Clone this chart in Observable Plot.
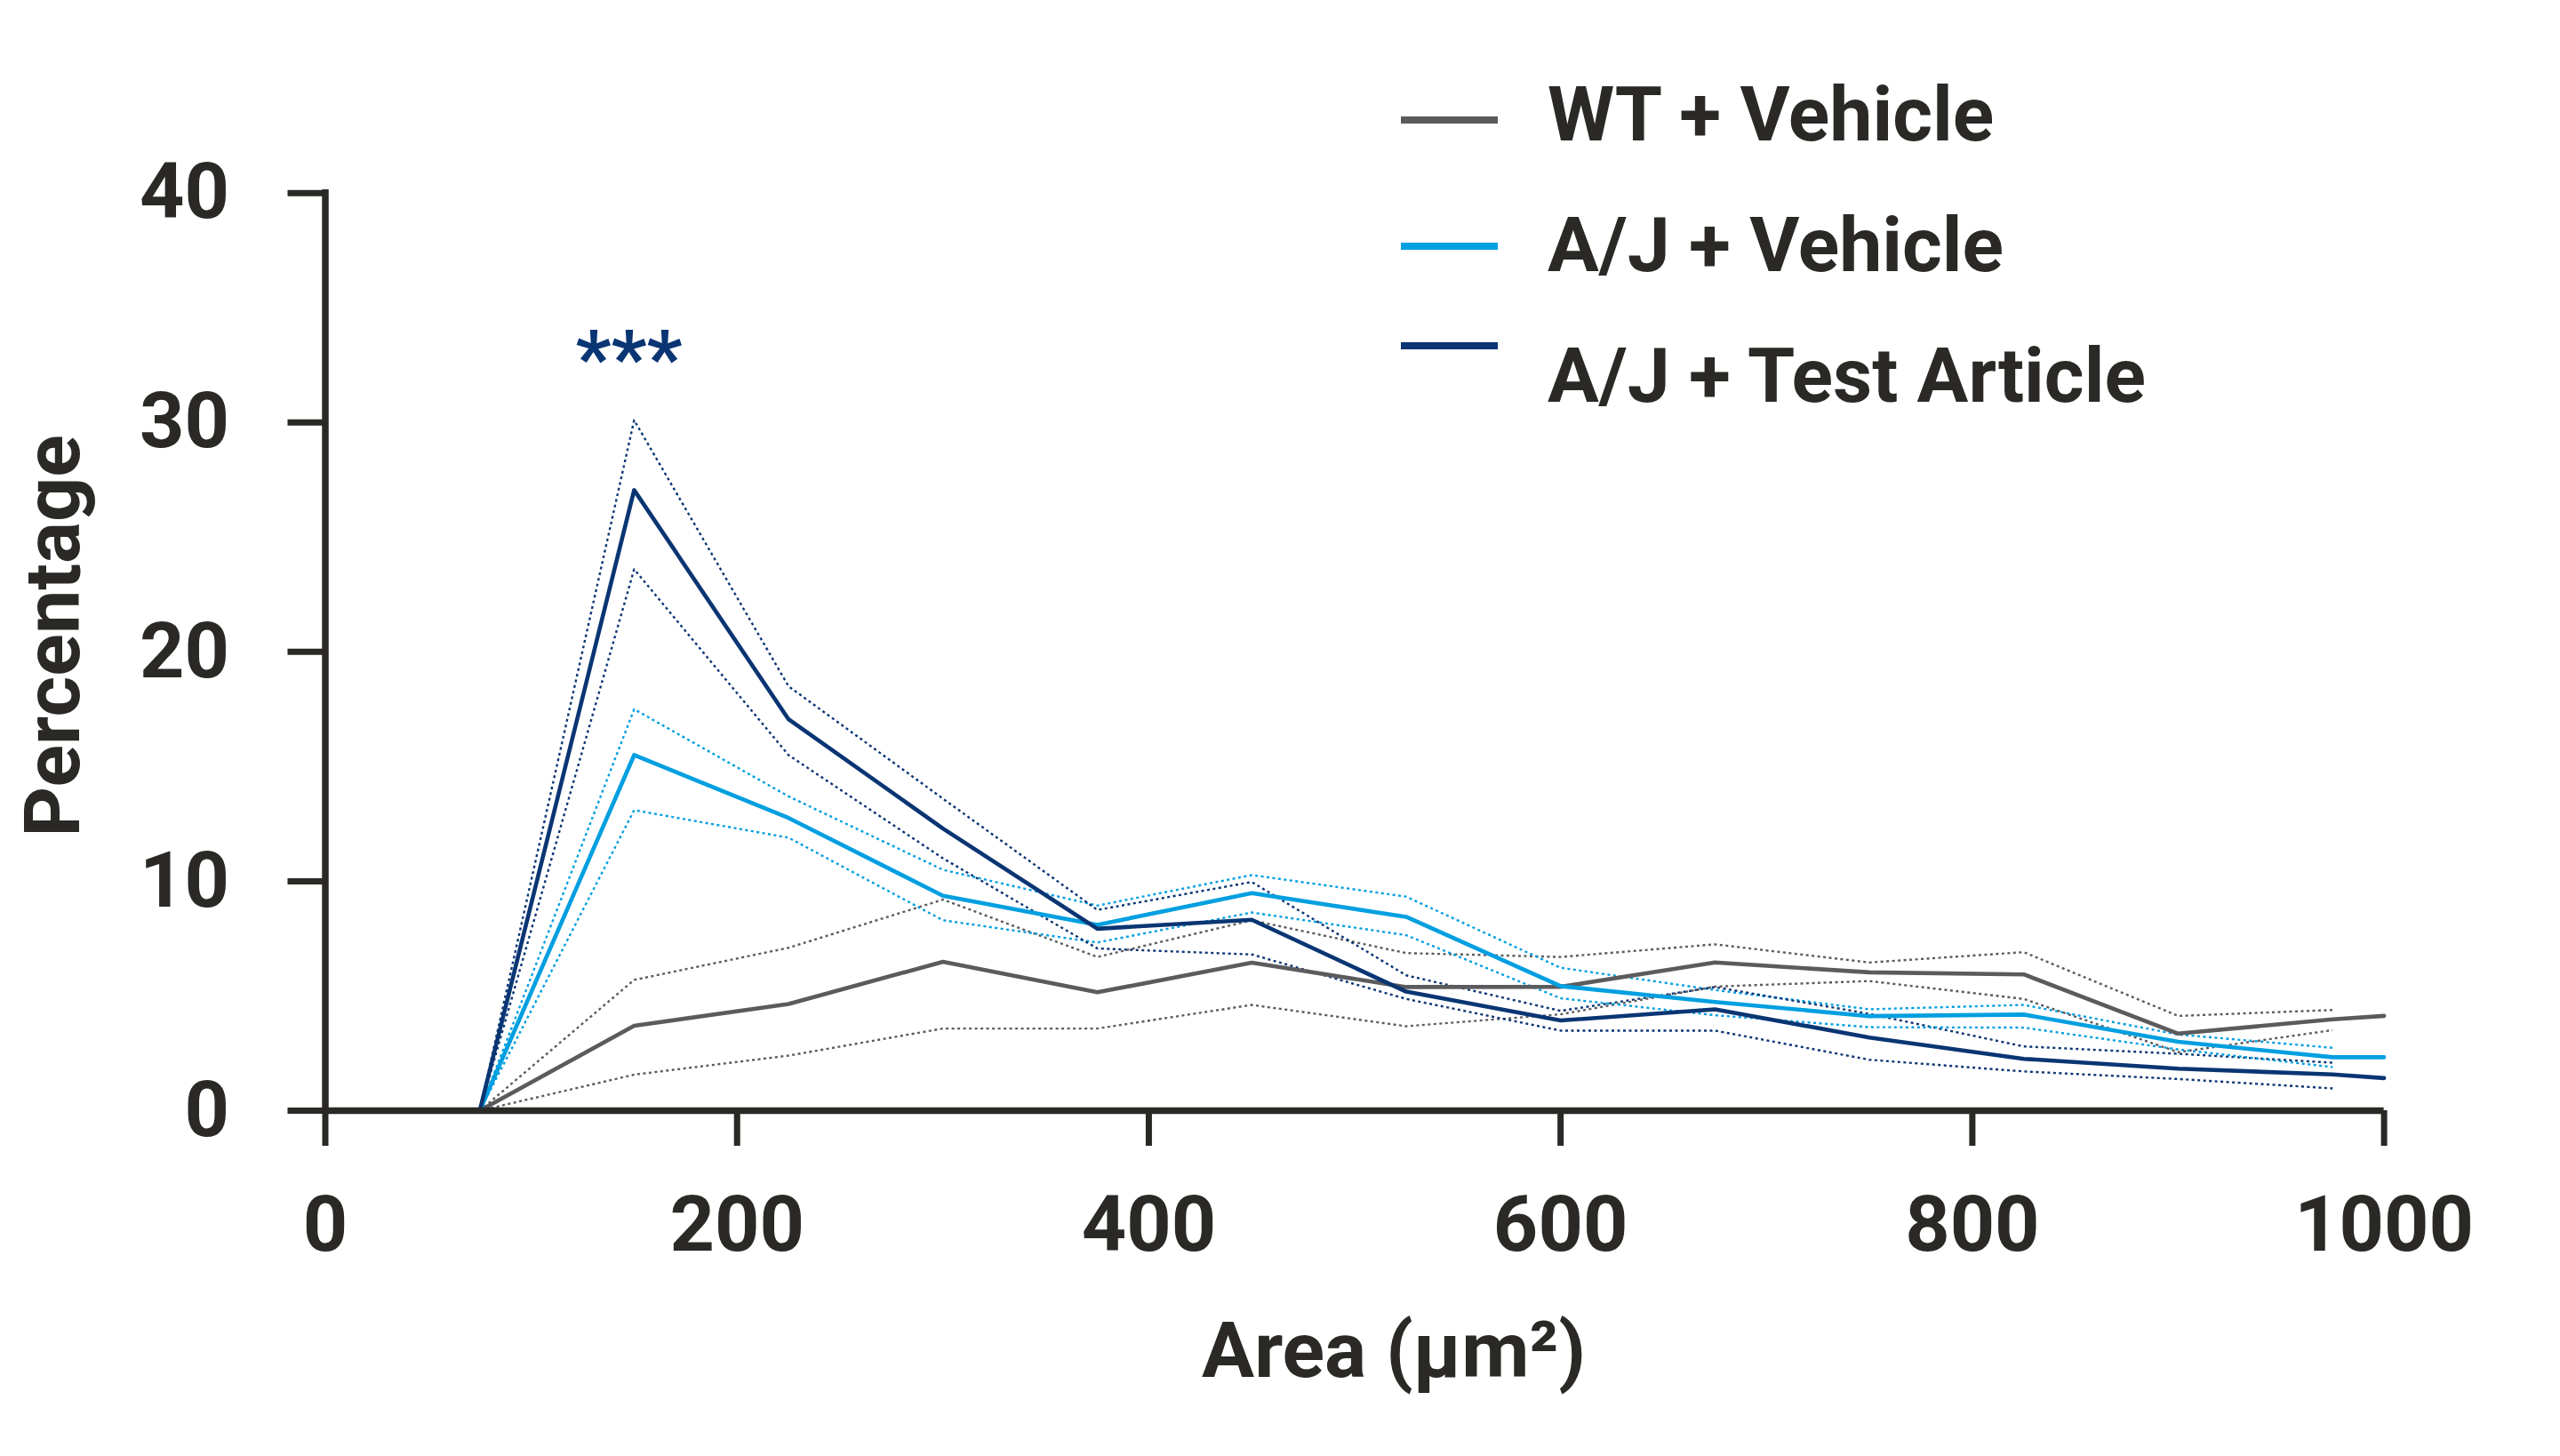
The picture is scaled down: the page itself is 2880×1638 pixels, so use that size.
<!DOCTYPE html>
<html>
<head>
<meta charset="utf-8">
<script src="https://cdn.jsdelivr.net/npm/d3@7"></script>
<script src="https://cdn.jsdelivr.net/npm/@observablehq/plot@0.6"></script>
<style>
  html, body { margin: 0; padding: 0; background: #ffffff; }
  #wrap { position: relative; width: 2880px; height: 1638px; overflow: hidden; }
  #legend { position: absolute; left: 0; top: 0; pointer-events: none; }
  text { font-family: Roboto, "Noto Sans", sans-serif; }
</style>
</head>
<body>
<div id="wrap"></div>
<script>
// ---------- data ----------
const seriesNames = ["WT + Vehicle", "A/J + Vehicle", "A/J + Test Article"];
const seriesColors = ["#5b5b5e", "#009fe0", "#0a3573"];

// bin centres (µm²) for the SEM bands, and for the mean lines (extra end point at 1000)
const binX  = [75, 150, 225, 300, 375, 450, 525, 600, 675, 750, 825, 900, 975];
const meanX = [75, 150, 225, 300, 375, 450, 525, 600, 675, 750, 825, 900, 975, 1000];

// WT + Vehicle
const wtMean  = [0, 3.7, 4.65, 6.49, 5.16, 6.45, 5.39, 5.4, 6.46, 6.03, 5.94, 3.36, 3.98, 4.13];
const wtUpper = [0, 5.7, 7.1, 9.2, 6.7, 8.3, 6.87, 6.7, 7.25, 6.46, 6.91, 4.13, 4.39];
const wtLower = [0, 1.57, 2.4, 3.58, 3.58, 4.61, 3.68, 4.2, 5.41, 5.65, 4.87, 2.55, 3.51];

// A/J + Vehicle
const ajMean  = [0, 15.5, 12.76, 9.37, 8.1, 9.48, 8.45, 5.43, 4.74, 4.12, 4.19, 3.0, 2.33, 2.33];
const ajUpper = [0, 17.5, 13.7, 10.5, 8.94, 10.27, 9.33, 6.23, 5.26, 4.42, 4.61, 3.32, 2.74];
const ajLower = [0, 13.1, 11.9, 8.3, 7.33, 8.64, 7.65, 4.9, 4.16, 3.64, 3.62, 2.67, 1.9];

// A/J + Test Article
const taMean  = [0, 27.05, 17.06, 12.3, 7.93, 8.32, 5.19, 3.93, 4.42, 3.19, 2.26, 1.83, 1.58, 1.42];
const taUpper = [0, 30.1, 18.5, 13.6, 8.75, 9.97, 5.9, 4.35, 5.39, 4.22, 2.8, 2.48, 2.09];
const taLower = [0, 23.6, 15.5, 11.0, 7.07, 6.81, 4.87, 3.49, 3.49, 2.22, 1.71, 1.38, 0.97];

const xTicks = [0, 200, 400, 600, 800, 1000];
const yTicks = [0, 10, 20, 30, 40];
const xLabel = "Area (µm²)";
const yLabel = "Percentage";
const sigLabel = "***";
const sigX = 150; // bin of significance

// ---------- tables ----------
const meanSets = [wtMean, ajMean, taMean];
const upperSets = [wtUpper, ajUpper, taUpper];
const lowerSets = [wtLower, ajLower, taLower];

const meanRows = [];
meanSets.forEach((arr, i) => arr.forEach((v, j) => meanRows.push({series: seriesNames[i], x: meanX[j], y: v})));
const bandRows = [];
[["upper", upperSets], ["lower", lowerSets]].forEach(([b, sets]) =>
  sets.forEach((arr, i) => arr.forEach((v, j) => bandRows.push({series: seriesNames[i], bound: b, key: seriesNames[i] + b, x: binX[j], y: v})))
);
const sigRows = [{x: sigX, y: taUpper[binX.indexOf(sigX)], text: sigLabel}];

const ink = "#2b2926";
const FONT = "Roboto, 'Noto Sans', sans-serif";

const chart = Plot.plot({
  width: 2880,
  height: 1638,
  marginLeft: 365.5,
  marginRight: 198.4,
  marginTop: 216.7,
  marginBottom: 389,
  x: {domain: [0, 1000]},
  y: {domain: [0, 40]},
  color: {domain: seriesNames, range: seriesColors},
  style: {fontFamily: FONT, fontWeight: 700, fontSize: "88px", color: ink, background: "#ffffff"},
  marks: [
    Plot.lineY(bandRows, {x: "x", y: "y", z: "key", stroke: "series", strokeWidth: 2.4, strokeDasharray: "3 3.5", strokeLinecap: "butt"}),
    Plot.lineY(meanRows, {x: "x", y: "y", z: "series", stroke: "series", strokeWidth: 4.6}),
    Plot.ruleX([0], {y1: 0, y2: 40, stroke: ink, strokeWidth: 7.5, strokeLinecap: "square"}),
    Plot.ruleY([0], {x1: 0, x2: 1000, stroke: ink, strokeWidth: 7.5}),
    Plot.axisY({ticks: yTicks, tickSize: 42, tickPadding: 66, stroke: ink, strokeWidth: 7, fill: ink, fontSize: 88, fontWeight: 700, label: null, tickFormat: d => String(d)}),
    Plot.axisX({ticks: xTicks, tickSize: 40, tickPadding: 55, stroke: ink, strokeWidth: 7, fill: ink, fontSize: 88, fontWeight: 700, label: null, tickFormat: d => String(d)}),
    Plot.text([yLabel], {frameAnchor: "left", rotate: -90, textAnchor: "middle", lineAnchor: "middle", dx: -305.5, dy: -18, fill: ink, fontSize: 88, fontWeight: 700}),
    Plot.text([xLabel], {frameAnchor: "bottom", textAnchor: "middle", lineAnchor: "bottom", dx: 44, dy: 299, fill: ink, fontSize: 88, fontWeight: 700}),
    Plot.text(sigRows, {x: "x", y: "y", text: "text", lineAnchor: "bottom", textAnchor: "middle", dx: -6, dy: -40, fill: seriesColors[2], fontSize: 88, fontWeight: 700, letterSpacing: "6px"})
  ]
});

const wrap = document.getElementById("wrap");
wrap.appendChild(chart);

// ---------- legend (overlay, top right) ----------
const legendBaselines = [158, 305, 452];
const legendLineY = [135, 277, 389];
const legend = d3.select(wrap).append("svg")
  .attr("id", "legend")
  .attr("width", 2880)
  .attr("height", 520);
const items = legend.selectAll("g").data(seriesNames).join("g");
items.append("line")
  .attr("x1", 1576).attr("x2", 1685)
  .attr("y1", (d, i) => legendLineY[i]).attr("y2", (d, i) => legendLineY[i])
  .attr("stroke", (d, i) => seriesColors[i])
  .attr("stroke-width", 8);
items.append("text")
  .attr("x", 1741)
  .attr("y", (d, i) => legendBaselines[i])
  .attr("fill", ink)
  .style("font-family", FONT)
  .style("font-weight", 700)
  .style("font-size", "86px")
  .text(d => d);
</script>
</body>
</html>
